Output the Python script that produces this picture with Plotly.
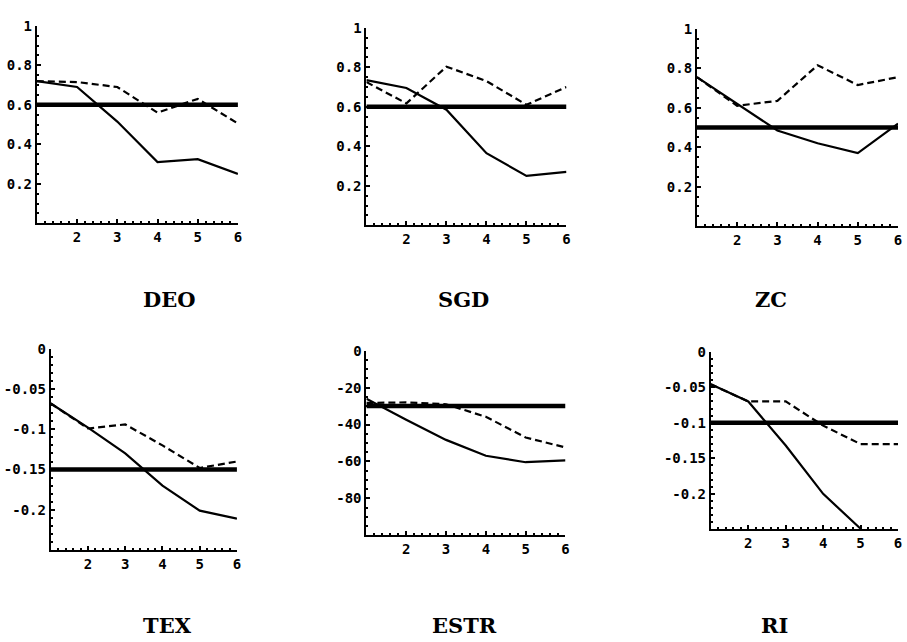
import plotly.graph_objects as go

W, H = 907, 642

x_vals = [1, 2, 3, 4, 5, 6]
x_ticks = [2, 3, 4, 5, 6]

names = ["DEO", "SGD", "ZC", "TEX", "ESTR", "RI"]

solid = {
    "DEO": [0.72, 0.69, 0.515, 0.31, 0.325, 0.25],
    "SGD": [0.735, 0.695, 0.585, 0.365, 0.25, 0.27],
    "ZC": [0.755, 0.62, 0.485, 0.42, 0.37, 0.52],
    "TEX": [-0.068, -0.098, -0.130, -0.170, -0.201, -0.211],
    "ESTR": [-26, -37.4, -48.3, -56.9, -60.4, -59.4],
    "RI": [-0.046, -0.070, -0.132, -0.200, -0.249, None],
}
dashed = {
    "DEO": [0.72, 0.715, 0.69, 0.56, 0.63, 0.505],
    "SGD": [0.725, 0.617, 0.803, 0.73, 0.61, 0.70],
    "ZC": [0.755, 0.61, 0.635, 0.815, 0.715, 0.755],
    "TEX": [-0.068, -0.099, -0.094, -0.120, -0.148, -0.140],
    "ESTR": [-28.3, -28, -29, -35.8, -47, -52.4],
    "RI": [-0.046, -0.070, -0.070, -0.104, -0.130, -0.130],
}
benchmark = {"DEO": 0.6, "SGD": 0.6, "ZC": 0.5, "TEX": -0.15, "ESTR": -30, "RI": -0.1}

y_ranges = {
    "DEO": [0, 1], "SGD": [0, 1], "ZC": [0, 1],
    "TEX": [-0.25, 0], "ESTR": [-100, 0], "RI": [-0.25, 0],
}
y_tickvals = {
    "DEO": [0.2, 0.4, 0.6, 0.8, 1],
    "SGD": [0.2, 0.4, 0.6, 0.8, 1],
    "ZC": [0.2, 0.4, 0.6, 0.8, 1],
    "TEX": [0, -0.05, -0.1, -0.15, -0.2],
    "ESTR": [0, -20, -40, -60, -80],
    "RI": [0, -0.05, -0.1, -0.15, -0.2],
}
y_ticktext = {
    "DEO": ["0.2", "0.4", "0.6", "0.8", "1"],
    "SGD": ["0.2", "0.4", "0.6", "0.8", "1"],
    "ZC": ["0.2", "0.4", "0.6", "0.8", "1"],
    "TEX": ["0", "-0.05", "-0.1", "-0.15", "-0.2"],
    "ESTR": ["0", "-20", "-40", "-60", "-80"],
    "RI": ["0", "-0.05", "-0.1", "-0.15", "-0.2"],
}
y_minor = {"DEO": 0.05, "SGD": 0.05, "ZC": 0.05, "TEX": 0.01, "ESTR": 5, "RI": 0.01}

# panel boxes in pixels: left, right, top, bottom
boxes = {
    "DEO": (37, 239, 18, 218),
    "SGD": (368, 569, 20, 220),
    "ZC": (700, 902, 21, 221),
    "TEX": (51, 238, 345, 549),
    "ESTR": (368, 568, 347, 534),
    "RI": (714, 902, 348, 528),
}
title_pos = {
    "DEO": (170, 295), "SGD": (466, 295), "ZC": (774, 295),
    "TEX": (168, 625), "ESTR": (467, 625), "RI": (778, 625),
}

fig = go.Figure()
tick_font = dict(family="DejaVu Sans Mono", size=14, color="black", weight="bold")

for i, n in enumerate(names, start=1):
    xa = "x" if i == 1 else f"x{i}"
    ya = "y" if i == 1 else f"y{i}"
    fig.add_trace(go.Scatter(x=[x_vals[0], x_vals[-1]], y=[benchmark[n]] * 2, mode="lines",
                             line=dict(color="black", width=4.5), xaxis=xa, yaxis=ya,
                             showlegend=False, hoverinfo="skip"))
    fig.add_trace(go.Scatter(x=x_vals, y=dashed[n], mode="lines",
                             line=dict(color="black", width=2.2, dash="7px,4px"),
                             xaxis=xa, yaxis=ya, showlegend=False))
    fig.add_trace(go.Scatter(x=x_vals, y=solid[n], mode="lines",
                             line=dict(color="black", width=2.2),
                             xaxis=xa, yaxis=ya, showlegend=False, connectgaps=False))
    l, r, t, b = boxes[n]
    xkey = "xaxis" if i == 1 else f"xaxis{i}"
    ykey = "yaxis" if i == 1 else f"yaxis{i}"
    fig.update_layout(**{
        xkey: dict(domain=[l / W, r / W], range=[1, 6], anchor=ya,
                   tickvals=x_ticks, ticktext=[str(v) for v in x_ticks],
                   showline=True, linecolor="black", linewidth=2,
                   ticks="inside", ticklen=4, tickwidth=1.5, tickcolor="black",
                   minor=dict(ticks="inside", ticklen=2, dtick=0.2, tickcolor="black"),
                   showgrid=False, zeroline=False, tickfont=tick_font, fixedrange=True),
        ykey: dict(domain=[1 - b / H, 1 - t / H], range=y_ranges[n], anchor=xa,
                   tickvals=y_tickvals[n], ticktext=y_ticktext[n],
                   showline=True, linecolor="black", linewidth=2,
                   ticks="inside", ticklen=4, tickwidth=1.5, tickcolor="black",
                   minor=dict(ticks="inside", ticklen=2, dtick=y_minor[n], tick0=0,
                              tickcolor="black"),
                   showgrid=False, zeroline=False, tickfont=tick_font, fixedrange=True),
    })
    tx, ty = title_pos[n]
    fig.add_annotation(x=tx / W, y=1 - ty / H, xref="paper", yref="paper", text=n,
                       showarrow=False, xanchor="center", yanchor="middle",
                       font=dict(family="DejaVu Serif", size=21, color="black", weight="bold"))

fig.update_layout(width=W, height=H, margin=dict(l=0, r=0, t=0, b=0),
                  paper_bgcolor="white", plot_bgcolor="white", showlegend=False)

fig.write_html("out.html", config={"displayModeBar": False},
               post_script="document.body.style.margin='0';document.body.style.overflow='hidden';")
